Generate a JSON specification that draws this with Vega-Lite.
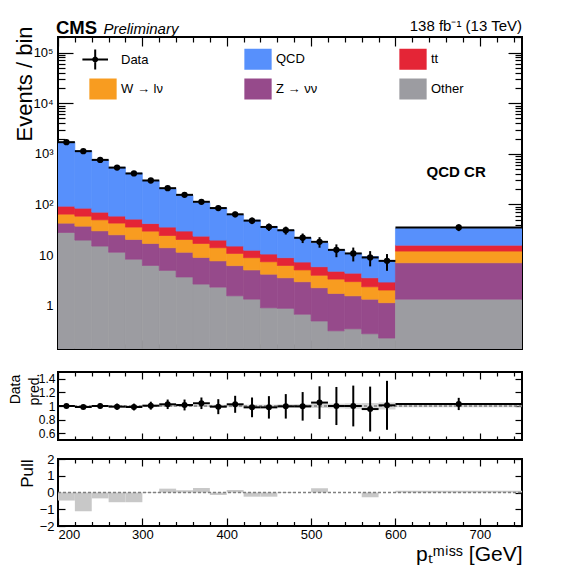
{
  "$schema": "https://vega.github.io/schema/vega-lite/v6.json",
  "padding": {"left": 7, "top": 18, "right": 5, "bottom": 5},
  "background": "white",
  "config": {
    "font": "Liberation Sans",
    "view": {"stroke": "black", "strokeWidth": 2},
    "axis": {"domain": false, "grid": false, "tickColor": "black", "tickWidth": 1.2, "labelColor": "black", "titleColor": "black", "labelFontSize": 13, "titleFontWeight": "normal", "labelOverlap": false},
    "legend": {"title": null, "orient": "none", "legendX": 35, "legendY": 12, "direction": "horizontal", "columns": 3, "gridAlign": "each", "columnPadding": 81, "rowPadding": 8, "padding": 0, "symbolSize": 400, "symbolStrokeWidth": 0, "symbolOpacity": 1, "labelOffset": 8, "labelFontSize": 13, "labelColor": "black", "labelFont": "Liberation Sans"}
  },
  "datasets": {
    "mc": [
      {"lo":200,"hi":220,"proc":"Other","n":28},{"lo":200,"hi":220,"proc":"Z → νν","n":14.8},{"lo":200,"hi":220,"proc":"W → lν","n":21.7},{"lo":200,"hi":220,"proc":"tt","n":28.2},{"lo":200,"hi":220,"proc":"QCD","n":1607},
      {"lo":220,"hi":240,"proc":"Other","n":19.8},{"lo":220,"hi":240,"proc":"Z → νν","n":17.5},{"lo":220,"hi":240,"proc":"W → lν","n":21.5},{"lo":220,"hi":240,"proc":"tt","n":25.9},{"lo":220,"hi":240,"proc":"QCD","n":1062},
      {"lo":240,"hi":260,"proc":"Other","n":15.1},{"lo":240,"hi":260,"proc":"Z → νν","n":15.1},{"lo":240,"hi":260,"proc":"W → lν","n":19.6},{"lo":240,"hi":260,"proc":"tt","n":20.8},{"lo":240,"hi":260,"proc":"QCD","n":689},
      {"lo":260,"hi":280,"proc":"Other","n":11.4},{"lo":260,"hi":280,"proc":"Z → νν","n":13.8},{"lo":260,"hi":280,"proc":"W → lν","n":17.7},{"lo":260,"hi":280,"proc":"tt","n":16.1},{"lo":260,"hi":280,"proc":"QCD","n":481},
      {"lo":280,"hi":300,"proc":"Other","n":8.3},{"lo":280,"hi":300,"proc":"Z → νν","n":12.1},{"lo":280,"hi":300,"proc":"W → lν","n":15.4},{"lo":280,"hi":300,"proc":"tt","n":15.6},{"lo":280,"hi":300,"proc":"QCD","n":365},
      {"lo":300,"hi":320,"proc":"Other","n":6.25},{"lo":300,"hi":320,"proc":"Z → νν","n":10.75},{"lo":300,"hi":320,"proc":"W → lν","n":12.8},{"lo":300,"hi":320,"proc":"tt","n":12.2},{"lo":300,"hi":320,"proc":"QCD","n":254},
      {"lo":320,"hi":340,"proc":"Other","n":5.0},{"lo":320,"hi":340,"proc":"Z → νν","n":9.0},{"lo":320,"hi":340,"proc":"W → lν","n":10.4},{"lo":320,"hi":340,"proc":"tt","n":11.4},{"lo":320,"hi":340,"proc":"QCD","n":169},
      {"lo":340,"hi":360,"proc":"Other","n":3.7},{"lo":340,"hi":360,"proc":"Z → νν","n":7.7},{"lo":340,"hi":360,"proc":"W → lν","n":9.0},{"lo":340,"hi":360,"proc":"tt","n":9.4},{"lo":340,"hi":360,"proc":"QCD","n":123},
      {"lo":360,"hi":380,"proc":"Other","n":2.68},{"lo":360,"hi":380,"proc":"Z → νν","n":6.32},{"lo":360,"hi":380,"proc":"W → lν","n":8.0},{"lo":360,"hi":380,"proc":"tt","n":6.7},{"lo":360,"hi":380,"proc":"QCD","n":85},
      {"lo":380,"hi":400,"proc":"Other","n":2.33},{"lo":380,"hi":400,"proc":"Z → νν","n":5.37},{"lo":380,"hi":400,"proc":"W → lν","n":6.3},{"lo":380,"hi":400,"proc":"tt","n":5.8},{"lo":380,"hi":400,"proc":"QCD","n":66},
      {"lo":400,"hi":420,"proc":"Other","n":1.57},{"lo":400,"hi":420,"proc":"Z → νν","n":4.63},{"lo":400,"hi":420,"proc":"W → lν","n":4.6},{"lo":400,"hi":420,"proc":"tt","n":4.3},{"lo":400,"hi":420,"proc":"QCD","n":47.3},
      {"lo":420,"hi":440,"proc":"Other","n":1.35},{"lo":420,"hi":440,"proc":"Z → νν","n":3.75},{"lo":420,"hi":440,"proc":"W → lν","n":3.8},{"lo":420,"hi":440,"proc":"tt","n":3.6},{"lo":420,"hi":440,"proc":"QCD","n":36.5},
      {"lo":440,"hi":460,"proc":"Other","n":0.91},{"lo":440,"hi":460,"proc":"Z → νν","n":3.29},{"lo":440,"hi":460,"proc":"W → lν","n":3.2},{"lo":440,"hi":460,"proc":"tt","n":3.1},{"lo":440,"hi":460,"proc":"QCD","n":26.2},
      {"lo":460,"hi":480,"proc":"Other","n":0.89},{"lo":460,"hi":480,"proc":"Z → νν","n":2.68},{"lo":460,"hi":480,"proc":"W → lν","n":2.68},{"lo":460,"hi":480,"proc":"tt","n":2.65},{"lo":460,"hi":480,"proc":"QCD","n":22.3},
      {"lo":480,"hi":500,"proc":"Other","n":0.68},{"lo":480,"hi":500,"proc":"Z → νν","n":2.3},{"lo":480,"hi":500,"proc":"W → lν","n":2.12},{"lo":480,"hi":500,"proc":"tt","n":2.2},{"lo":480,"hi":500,"proc":"QCD","n":14.8},
      {"lo":500,"hi":520,"proc":"Other","n":0.5},{"lo":500,"hi":520,"proc":"Z → νν","n":1.77},{"lo":500,"hi":520,"proc":"W → lν","n":1.73},{"lo":500,"hi":520,"proc":"tt","n":1.9},{"lo":500,"hi":520,"proc":"QCD","n":11.5},
      {"lo":520,"hi":540,"proc":"Other","n":0.32},{"lo":520,"hi":540,"proc":"Z → νν","n":1.43},{"lo":520,"hi":540,"proc":"W → lν","n":1.61},{"lo":520,"hi":540,"proc":"tt","n":1.44},{"lo":520,"hi":540,"proc":"QCD","n":7.9},
      {"lo":540,"hi":560,"proc":"Other","n":0.35},{"lo":540,"hi":560,"proc":"Z → νν","n":1.22},{"lo":540,"hi":560,"proc":"W → lν","n":1.43},{"lo":540,"hi":560,"proc":"tt","n":1.4},{"lo":540,"hi":560,"proc":"QCD","n":6.4},
      {"lo":560,"hi":580,"proc":"Other","n":0.28},{"lo":560,"hi":580,"proc":"Z → νν","n":1.07},{"lo":560,"hi":580,"proc":"W → lν","n":1.02},{"lo":560,"hi":580,"proc":"tt","n":1.2},{"lo":560,"hi":580,"proc":"QCD","n":5.8},
      {"lo":580,"hi":600,"proc":"Other","n":0.23},{"lo":580,"hi":600,"proc":"Z → νν","n":0.92},{"lo":580,"hi":600,"proc":"W → lν","n":0.89},{"lo":580,"hi":600,"proc":"tt","n":0.89},{"lo":580,"hi":600,"proc":"QCD","n":4.7},
      {"lo":600,"hi":750,"proc":"Other","n":1.35},{"lo":600,"hi":750,"proc":"Z → νν","n":5.71},{"lo":600,"hi":750,"proc":"W → lν","n":4.94},{"lo":600,"hi":750,"proc":"tt","n":3.7},{"lo":600,"hi":750,"proc":"QCD","n":18.1}
    ],
    "obs": [
      {"lo":200,"hi":220,"c":210,"n":1700,"nlo":1659,"nhi":1741,"r":1.0,"rlo":0.98,"rhi":1.02,"blo":0.99,"bhi":1.01,"pull":-0.48},
      {"lo":220,"hi":240,"c":230,"n":1130,"nlo":1096,"nhi":1164,"r":0.985,"rlo":0.955,"rhi":1.015,"blo":0.99,"bhi":1.01,"pull":-1.12},
      {"lo":240,"hi":260,"c":250,"n":760,"nlo":732,"nhi":788,"r":1.0,"rlo":0.965,"rhi":1.035,"blo":0.99,"bhi":1.01,"pull":-0.35},
      {"lo":260,"hi":280,"c":270,"n":535,"nlo":512,"nhi":558,"r":0.99,"rlo":0.945,"rhi":1.035,"blo":0.988,"bhi":1.012,"pull":-0.58},
      {"lo":280,"hi":300,"c":290,"n":410,"nlo":390,"nhi":430,"r":0.985,"rlo":0.935,"rhi":1.035,"blo":0.988,"bhi":1.012,"pull":-0.58},
      {"lo":300,"hi":320,"c":310,"n":298,"nlo":281,"nhi":315,"r":1.005,"rlo":0.947,"rhi":1.063,"blo":0.988,"bhi":1.012,"pull":0.03},
      {"lo":320,"hi":340,"c":330,"n":210,"nlo":196,"nhi":224,"r":1.025,"rlo":0.955,"rhi":1.095,"blo":0.985,"bhi":1.015,"pull":0.23},
      {"lo":340,"hi":360,"c":350,"n":155,"nlo":143,"nhi":167,"r":1.015,"rlo":0.935,"rhi":1.095,"blo":0.985,"bhi":1.015,"pull":0.13},
      {"lo":360,"hi":380,"c":370,"n":113,"nlo":102,"nhi":124,"r":1.04,"rlo":0.955,"rhi":1.125,"blo":0.985,"bhi":1.015,"pull":0.27},
      {"lo":380,"hi":400,"c":390,"n":85,"nlo":76,"nhi":94,"r":0.99,"rlo":0.88,"rhi":1.1,"blo":0.982,"bhi":1.018,"pull":-0.15},
      {"lo":400,"hi":420,"c":410,"n":64,"nlo":56,"nhi":72,"r":1.025,"rlo":0.9,"rhi":1.15,"blo":0.982,"bhi":1.018,"pull":0.15},
      {"lo":420,"hi":440,"c":430,"n":48,"nlo":41,"nhi":55,"r":0.98,"rlo":0.835,"rhi":1.125,"blo":0.98,"bhi":1.02,"pull":-0.25},
      {"lo":440,"hi":460,"c":450,"n":36,"nlo":30,"nhi":42,"r":0.98,"rlo":0.815,"rhi":1.145,"blo":0.98,"bhi":1.02,"pull":-0.25},
      {"lo":460,"hi":480,"c":470,"n":31,"nlo":25.5,"nhi":36.5,"r":0.995,"rlo":0.815,"rhi":1.175,"blo":0.975,"bhi":1.025,"pull":-0.03},
      {"lo":480,"hi":500,"c":490,"n":22,"nlo":17.3,"nhi":26.7,"r":0.995,"rlo":0.785,"rhi":1.205,"blo":0.972,"bhi":1.028,"pull":0.0},
      {"lo":500,"hi":520,"c":510,"n":18.3,"nlo":14,"nhi":22.6,"r":1.05,"rlo":0.81,"rhi":1.29,"blo":0.97,"bhi":1.03,"pull":0.25},
      {"lo":520,"hi":540,"c":530,"n":12.7,"nlo":9.1,"nhi":16.3,"r":1.0,"rlo":0.72,"rhi":1.28,"blo":0.965,"bhi":1.035,"pull":0.0},
      {"lo":540,"hi":560,"c":550,"n":10.8,"nlo":7.5,"nhi":14.1,"r":1.0,"rlo":0.7,"rhi":1.3,"blo":0.96,"bhi":1.04,"pull":0.0},
      {"lo":560,"hi":580,"c":570,"n":9.0,"nlo":6.0,"nhi":12.0,"r":0.955,"rlo":0.625,"rhi":1.285,"blo":0.955,"bhi":1.045,"pull":-0.29},
      {"lo":580,"hi":600,"c":590,"n":7.7,"nlo":4.9,"nhi":10.5,"r":1.01,"rlo":0.65,"rhi":1.37,"blo":0.95,"bhi":1.05,"pull":0.0},
      {"lo":600,"hi":750,"c":675,"n":35.2,"nlo":29.8,"nhi":40.5,"r":1.03,"rlo":0.94,"rhi":1.12,"blo":0.98,"bhi":1.02,"pull":0.1}
    ]
  },
  "spacing": 23,
  "bounds": "flush",
  "vconcat": [
    {
      "width": 464,
      "height": 312,
      "resolve": {"axis": {"x": "independent", "y": "independent"}},
      "layer": [
        {
          "data": {"name": "mc"},
          "transform": [
            {"stack": "n", "groupby": ["lo"], "as": ["bottom", "top"]}
          ],
          "mark": {"type": "rect", "clip": true, "strokeWidth": 0.7},
          "encoding": {
            "x": {"field": "lo", "type": "quantitative", "scale": {"domain": [200, 750], "nice": false, "zero": false},
              "axis": {"orient": "bottom", "values": [200,220,240,260,280,300,320,340,360,380,400,420,440,460,480,500,520,540,560,580,600,620,640,660,680,700,720,740], "labels": false, "title": null,
                "tickSize": {"condition": {"test": "datum.value % 100 == 0", "value": -9}, "value": -5}}},
            "x2": {"field": "hi"},
            "y": {"field": "top", "type": "quantitative", "scale": {"type": "log", "domain": [0.14, 203000], "nice": false, "clamp": true},
              "axis": {"orient": "left", "values": [0.2,0.3,0.4,0.5,0.6,0.7,0.8,0.9,1,2,3,4,5,6,7,8,9,10,20,30,40,50,60,70,80,90,100,200,300,400,500,600,700,800,900,1000,2000,3000,4000,5000,6000,7000,8000,9000,10000,20000,30000,40000,50000,60000,70000,80000,90000,100000,200000],
                "labelExpr": "datum.value == 1 ? '1' : datum.value == 10 ? '10' : datum.value == 100 ? '10²' : datum.value == 1000 ? '10³' : datum.value == 10000 ? '10⁴' : datum.value == 100000 ? '10⁵' : ''",
                "tickSize": {"condition": {"test": "indexof([1,10,100,1000,10000,100000], datum.value) >= 0", "value": -15}, "value": -7},
                "labelPadding": 20, "labelFontSize": 13,
                "title": "Events / bin", "titleFontSize": 22, "titleAnchor": "end", "titleX": -22, "titleY": -11}},
            "y2": {"field": "bottom"},
            "color": {"field": "proc", "type": "nominal",
              "scale": {"domain": ["Data", "QCD", "tt", "W → lν", "Z → νν", "Other"], "range": ["#000000", "#5790fc", "#e42536", "#f89c20", "#964a8b", "#9c9ca1"]}},
            "stroke": {"field": "proc", "type": "nominal",
              "scale": {"domain": ["Data", "QCD", "tt", "W → lν", "Z → νν", "Other"], "range": ["#000000", "#5790fc", "#e42536", "#f89c20", "#964a8b", "#9c9ca1"]}}
          }
        },
        {
          "data": {"name": "mc"},
          "transform": [{"filter": "false"}],
          "mark": {"type": "point", "filled": true, "opacity": 1},
          "encoding": {
            "x": {"field": "lo", "type": "quantitative", "axis": null},
            "y": {"field": "n", "type": "quantitative", "axis": null},
            "color": {"field": "proc", "type": "nominal",
              "scale": {"domain": ["Data", "QCD", "tt", "W → lν", "Z → νν", "Other"], "range": ["#000000", "#5790fc", "#e42536", "#f89c20", "#964a8b", "#9c9ca1"]}},
            "shape": {"field": "proc", "type": "nominal",
              "scale": {"domain": ["Data", "QCD", "tt", "W → lν", "Z → νν", "Other"],
                "range": ["M-2.06,-0.1H0.5V0.1H-2.06Z M-0.88,-1H-0.68V1H-0.88Z M-0.48,0A0.3,0.3,0,1,1,-1.08,0A0.3,0.3,0,1,1,-0.48,0Z",
                  "M-1.365,-1.05H1.365V1.05H-1.365Z", "M-1.365,-1.05H1.365V1.05H-1.365Z", "M-1.365,-1.05H1.365V1.05H-1.365Z", "M-1.365,-1.05H1.365V1.05H-1.365Z", "M-1.365,-1.05H1.365V1.05H-1.365Z"]}}
          }
        },
        {
          "data": {"name": "obs"},
          "mark": {"type": "rule", "color": "black", "strokeWidth": 2},
          "encoding": {
            "x": {"field": "c", "type": "quantitative", "axis": null},
            "y": {"field": "nlo", "type": "quantitative", "axis": null},
            "y2": {"field": "nhi"}
          }
        },
        {
          "data": {"name": "obs"},
          "mark": {"type": "rule", "color": "black", "strokeWidth": 2},
          "encoding": {
            "x": {"field": "lo", "type": "quantitative", "axis": null},
            "x2": {"field": "hi"},
            "y": {"field": "n", "type": "quantitative", "axis": null}
          }
        },
        {
          "data": {"name": "obs"},
          "mark": {"type": "point", "filled": true, "shape": "circle", "size": 40, "opacity": 1, "color": "black"},
          "encoding": {
            "x": {"field": "c", "type": "quantitative",
              "axis": {"orient": "top", "values": [200,220,240,260,280,300,320,340,360,380,400,420,440,460,480,500,520,540,560,580,600,620,640,660,680,700,720,740], "labels": false, "title": null,
                "tickSize": {"condition": {"test": "datum.value % 100 == 0", "value": -9}, "value": -5}}},
            "y": {"field": "n", "type": "quantitative",
              "axis": {"orient": "right", "values": [0.2,0.3,0.4,0.5,0.6,0.7,0.8,0.9,1,2,3,4,5,6,7,8,9,10,20,30,40,50,60,70,80,90,100,200,300,400,500,600,700,800,900,1000,2000,3000,4000,5000,6000,7000,8000,9000,10000,20000,30000,40000,50000,60000,70000,80000,90000,100000,200000],
                "labels": false, "title": null,
                "tickSize": {"condition": {"test": "indexof([1,10,100,1000,10000,100000], datum.value) >= 0", "value": -14}, "value": -7}}}
          }
        },
        {
          "data": {"values": [{}]},
          "mark": {"type": "text", "text": "CMS", "fontSize": 18.5, "fontWeight": "bold", "align": "left", "baseline": "alphabetic", "dx": -2, "dy": -2.7, "color": "black"},
          "encoding": {"x": {"datum": 200, "axis": null}, "y": {"datum": 203000, "axis": null}}
        },
        {
          "data": {"values": [{}]},
          "mark": {"type": "text", "text": "Preliminary", "fontSize": 15, "fontStyle": "italic", "align": "left", "baseline": "alphabetic", "dx": 45.4, "dy": -2.7, "color": "black"},
          "encoding": {"x": {"datum": 200, "axis": null}, "y": {"datum": 203000, "axis": null}}
        },
        {
          "data": {"values": [{}]},
          "mark": {"type": "text", "text": "138 fb⁻¹ (13 TeV)", "fontSize": 15, "align": "right", "baseline": "alphabetic", "dy": -6, "color": "black"},
          "encoding": {"x": {"datum": 750, "axis": null}, "y": {"datum": 203000, "axis": null}}
        },
        {
          "data": {"values": [{}]},
          "mark": {"type": "text", "text": "QCD CR", "fontSize": 15, "fontWeight": "bold", "align": "center", "baseline": "alphabetic", "color": "black"},
          "encoding": {"x": {"datum": 672, "axis": null}, "y": {"datum": 351, "axis": null}}
        }
      ]
    },
    {
      "spacing": 19,
      "bounds": "flush",
      "vconcat": [
        {
          "width": 464,
          "height": 68,
          "resolve": {"axis": {"x": "independent", "y": "independent"}},
          "layer": [
            {
              "data": {"name": "obs"},
              "mark": {"type": "rect", "color": "#a0a0a0", "opacity": 0.45},
              "encoding": {
                "x": {"field": "lo", "type": "quantitative", "scale": {"domain": [200, 750], "nice": false, "zero": false},
                  "axis": {"orient": "bottom", "values": [200,220,240,260,280,300,320,340,360,380,400,420,440,460,480,500,520,540,560,580,600,620,640,660,680,700,720,740], "labels": false, "title": null,
                    "tickSize": {"condition": {"test": "datum.value % 100 == 0", "value": -7}, "value": -4}}},
                "x2": {"field": "hi"},
                "y": {"field": "blo", "type": "quantitative", "scale": {"domain": [0.5, 1.5], "nice": false, "zero": false},
                  "axis": {"orient": "left", "values": [0.6, 0.8, 1, 1.2, 1.4], "format": "~g", "tickSize": -7, "labelPadding": 10, "labelFontSize": 12,
                    "title": ["Data", "pred."], "titleFontSize": 14, "titleLineHeight": 19, "titleAnchor": "middle", "titleX": -36, "titleY": 17}},
                "y2": {"field": "bhi"}
              }
            },
            {
              "data": {"values": [{}]},
              "mark": {"type": "rule", "color": "#808080", "strokeDash": [3, 2], "strokeWidth": 1.5},
              "encoding": {"y": {"datum": 1, "axis": null}}
            },
            {
              "data": {"name": "obs"},
              "mark": {"type": "rule", "color": "black", "strokeWidth": 2},
              "encoding": {
                "x": {"field": "c", "type": "quantitative", "axis": null},
                "y": {"field": "rlo", "type": "quantitative", "axis": null},
                "y2": {"field": "rhi"}
              }
            },
            {
              "data": {"name": "obs"},
              "mark": {"type": "rule", "color": "black", "strokeWidth": 2},
              "encoding": {
                "x": {"field": "lo", "type": "quantitative", "axis": null},
                "x2": {"field": "hi"},
                "y": {"field": "r", "type": "quantitative", "axis": null}
              }
            },
            {
              "data": {"name": "obs"},
              "mark": {"type": "point", "filled": true, "shape": "circle", "size": 36, "opacity": 1, "color": "black"},
              "encoding": {
                "x": {"field": "c", "type": "quantitative",
                  "axis": {"orient": "top", "values": [200,220,240,260,280,300,320,340,360,380,400,420,440,460,480,500,520,540,560,580,600,620,640,660,680,700,720,740], "labels": false, "title": null,
                    "tickSize": {"condition": {"test": "datum.value % 100 == 0", "value": -7}, "value": -4}}},
                "y": {"field": "r", "type": "quantitative",
                  "axis": {"orient": "right", "values": [0.6, 0.8, 1, 1.2, 1.4], "labels": false, "title": null, "tickSize": -7}}
              }
            }
          ]
        },
        {
          "width": 464,
          "height": 67,
          "resolve": {"axis": {"x": "independent", "y": "independent"}},
          "layer": [
            {
              "data": {"name": "obs"},
              "mark": {"type": "rect", "color": "#c8c8c8"},
              "encoding": {
                "x": {"field": "lo", "type": "quantitative", "scale": {"domain": [200, 750], "nice": false, "zero": false},
                  "axis": {"orient": "bottom", "values": [200,220,240,260,280,300,320,340,360,380,400,420,440,460,480,500,520,540,560,580,600,620,640,660,680,700,720,740],
                    "labelExpr": "datum.value % 100 == 0 ? datum.label : ''", "labelPadding": 10, "labelFontSize": 13,
                    "tickSize": {"condition": {"test": "datum.value % 100 == 0", "value": -8}, "value": -4.5},
                    "title": "pₜᵐⁱˢˢ [GeV]", "titleFontSize": 21, "titleAnchor": "end", "titleAlign": "right", "titleBaseline": "alphabetic", "titleX": 464, "titleY": 34}},
                "x2": {"field": "hi"},
                "y": {"field": "pull", "type": "quantitative", "scale": {"domain": [-2, 2], "nice": false, "zero": false},
                  "axis": {"orient": "left", "values": [-2, -1, 0, 1, 2], "format": "d", "tickSize": -7, "labelPadding": 11, "labelFontSize": 13,
                    "title": "Pull", "titleFontSize": 17, "titleAnchor": "end", "titleX": -22, "titleY": 0}},
                "y2": {"datum": 0}
              }
            },
            {
              "data": {"values": [{}]},
              "mark": {"type": "rule", "color": "#808080", "strokeDash": [3, 2], "strokeWidth": 1.5},
              "encoding": {
                "x": {"datum": 200,
                  "axis": {"orient": "top", "values": [200,220,240,260,280,300,320,340,360,380,400,420,440,460,480,500,520,540,560,580,600,620,640,660,680,700,720,740], "labels": false, "title": null,
                    "tickSize": {"condition": {"test": "datum.value % 100 == 0", "value": -7}, "value": -4}}},
                "x2": {"datum": 750},
                "y": {"datum": 0,
                  "axis": {"orient": "right", "values": [-2, -1, 0, 1, 2], "labels": false, "title": null, "tickSize": -7}}
              }
            }
          ]
        }
      ]
    }
  ]
}
